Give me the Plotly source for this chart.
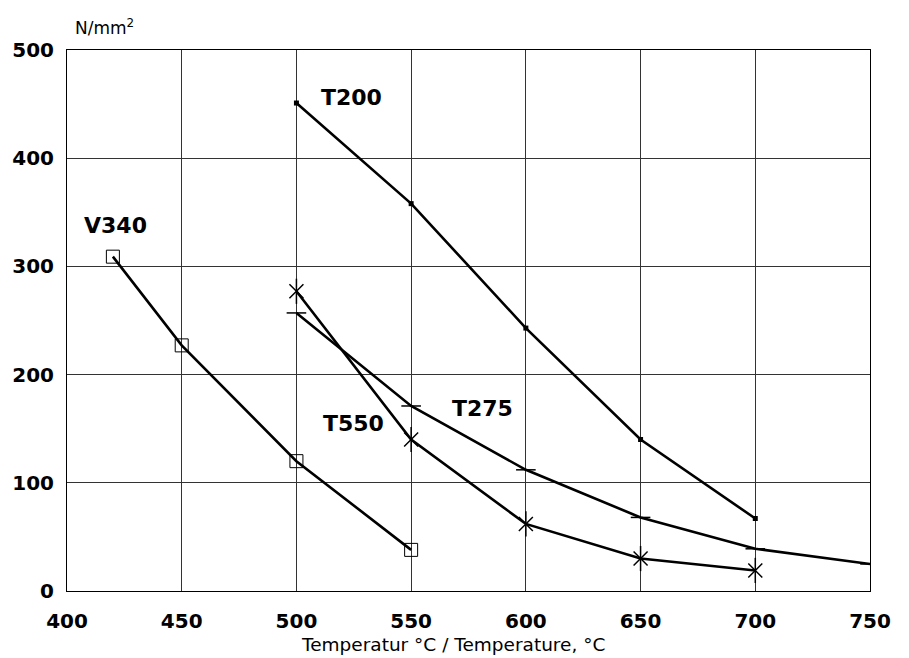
import plotly.graph_objects as go

v340_x = [420, 450, 500, 550]
v340_y = [309, 227, 120, 38]
t200_x = [500, 550, 600, 650, 700]
t200_y = [451, 358, 243, 140, 67]
t275_x = [500, 550, 600, 650, 700, 750]
t275_y = [257, 171, 112, 68, 39, 25]
t550_x = [500, 550, 600, 650, 700]
t550_y = [277, 140, 62, 30, 19]

x_ticks = [400, 450, 500, 550, 600, 650, 700, 750]
y_ticks = [0, 100, 200, 300, 400, 500]

labels = ["V340", "T200", "T275", "T550"]
label_x = [421, 524, 581, 525]
label_y = [338, 456, 169, 155]

FONT = "DejaVu Sans"
LW = 2.6
fig = go.Figure()
fig.add_trace(go.Scatter(x=v340_x, y=v340_y, mode="lines+markers",
                         line=dict(color="black", width=LW),
                         marker=dict(symbol="square-open", size=13, color="black", line=dict(width=1))))
fig.add_trace(go.Scatter(x=t200_x, y=t200_y, mode="lines+markers",
                         line=dict(color="black", width=LW),
                         marker=dict(symbol="square", size=5, color="black")))
fig.add_trace(go.Scatter(x=t275_x, y=t275_y, mode="lines+markers",
                         line=dict(color="black", width=LW),
                         marker=dict(symbol="line-ew-open", size=14, color="black", line=dict(width=1.5, color="black"))))
fig.add_trace(go.Scatter(x=t550_x, y=t550_y, mode="lines+markers",
                         line=dict(color="black", width=LW),
                         marker=dict(symbol="x-thin-open", size=14, color="black", line=dict(width=1.5, color="black"))))
fig.add_trace(go.Scatter(x=t550_x, y=t550_y, mode="markers",
                         marker=dict(symbol="line-ns-open", size=18, color="black", line=dict(width=1.5, color="black"))))

for t, lx, ly in zip(labels, label_x, label_y):
    fig.add_annotation(x=lx, y=ly, text="<b>" + t + "</b>", showarrow=False,
                       font=dict(family=FONT, size=22, color="black"))

fig.add_annotation(xref="paper", yref="paper", x=0.0075, y=1.043, xanchor="left", yanchor="middle",
                   text="N/mm<sup>2</sup>", showarrow=False,
                   font=dict(family=FONT, size=17, color="black"))
fig.add_annotation(xref="paper", yref="paper", x=0.481, y=-0.0998, xanchor="center", yanchor="middle",
                   text="Temperatur °C / Temperature, °C", showarrow=False,
                   font=dict(family=FONT, size=18.5, color="black"))

fig.update_layout(
    width=901, height=650,
    margin=dict(l=59, r=39, t=42, b=67, autoexpand=False),
    paper_bgcolor="white", plot_bgcolor="white",
    showlegend=False,
    font=dict(family=FONT, color="black"),
    xaxis=dict(range=[400, 750], tickvals=x_ticks, ticktext=["<b>%d</b>" % v for v in x_ticks],
               showgrid=True, gridcolor="#333333", gridwidth=1, zeroline=False,
               showline=True, linecolor="black", linewidth=1, mirror=True, automargin=False,
               ticks="", tickfont=dict(size=20), ticklabelstandoff=12),
    yaxis=dict(range=[0, 500], tickvals=y_ticks, ticktext=["<b>%d</b>" % v for v in y_ticks],
               showgrid=True, gridcolor="#333333", gridwidth=1, zeroline=False,
               showline=True, linecolor="black", linewidth=1, mirror=True, automargin=False,
               ticks="", tickfont=dict(size=20), ticklabelstandoff=8),
)

fig.write_html("out.html")
